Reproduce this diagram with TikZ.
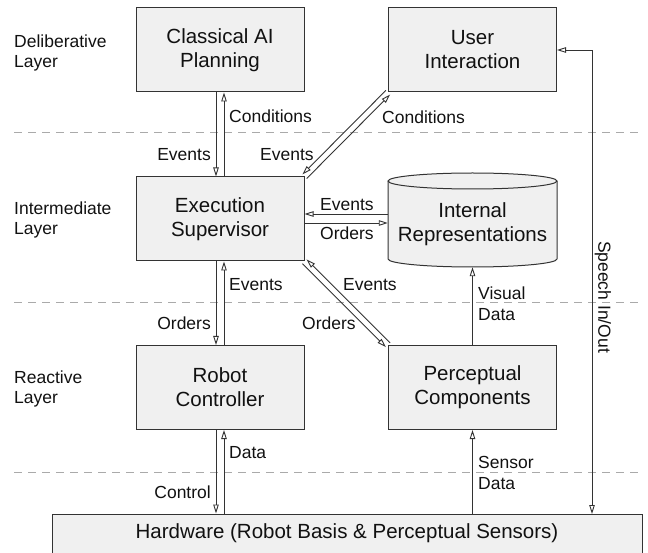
\documentclass[tikz,border=0pt]{standalone}
\usepackage{fontspec}
\setmainfont{Liberation Sans}
\usetikzlibrary{arrows.meta}
\definecolor{boxfill}{HTML}{F0F0F0}
\definecolor{boxline}{HTML}{333333}
\definecolor{dashcol}{HTML}{AAAAAA}
\definecolor{txt}{HTML}{111111}
\begin{document}
\begin{tikzpicture}[x=1pt,y=-1pt,
  box/.style={draw=boxline, fill=boxfill, line width=1pt, minimum width=168pt, minimum height=84pt,
    inner sep=0pt, align=center, text=txt, font=\fontsize{20.5}{24}\selectfont},
  lab/.style={font=\fontsize{17.5}{20.5}\selectfont, inner sep=0pt, align=left, text=txt},
  conn/.style={draw=boxline, line width=0.9pt},
  tipend/.style={-{Triangle[open, length=9pt, width=5.5pt]}},
  tipboth/.style={{Triangle[open, length=9pt, width=5.5pt]}-{Triangle[open, length=9pt, width=5.5pt]}},
  sep/.style={draw=dashcol, line width=1pt, dash pattern=on 8pt off 6pt}
]
\useasboundingbox (0,0) rectangle (648,553);

% layer separators
\draw[sep] (14,133) -- (640,133);
\draw[sep] (14,303) -- (640,303);
\draw[sep] (14,472) -- (640,472);

% layer labels
\node[lab, anchor=west] (l1) at (14,53) {Deliberative\\Layer};
\node[lab, anchor=west] (l2) at (14,220) {Intermediate\\Layer};
\node[lab, anchor=west] (l3) at (14,389) {Reactive\\Layer};

% boxes
\node[box] (cls) at (220,50) {Classical AI\\Planning};
\node[box] (ui) at (472.5,50) {User\\Interaction};
\node[box] (ex) at (220,219) {Execution\\Supervisor};
\node[box] (rc) at (220,387.5) {Robot\\Controller};
\node[box] (pc) at (472.5,387.5) {Perceptual\\Components};

% cylinder
\node[minimum width=169pt, minimum height=94pt, inner sep=0pt] (ir) at (472.5,220) {};
\path[fill=boxfill] (388,181) rectangle (557,259);
\path[fill=boxfill] (472.5,259) ellipse[x radius=84.5, y radius=8];
\draw[boxline, line width=1pt] (388,181) -- (388,259) arc[start angle=180, end angle=0, x radius=84.5, y radius=8] -- (557,181);
\draw[boxline, line width=1pt, fill=boxfill] (472.5,181) ellipse[x radius=84.5, y radius=8];
\node[align=center, text=txt, font=\fontsize{20.5}{24}\selectfont, inner sep=0pt] (irt) at (472.5,224) {Internal\\Representations};

% hardware
\node[draw=boxline, fill=boxfill, line width=1pt, minimum width=590pt, minimum height=42pt, inner sep=0pt] (hw) at (347,535) {};
\node[text=txt, font=\fontsize{20.5}{24}\selectfont, inner sep=0pt] (hwt) at (347,533) {Hardware (Robot Basis \& Perceptual Sensors)};

% Classical <-> Exec
\draw[conn, tipend] ([xshift=-4pt]cls.south) -- ([xshift=-4pt]ex.north);
\draw[conn, tipend] ([xshift=4pt]ex.north) -- ([xshift=4pt]cls.south);
\node[lab, anchor=west] (lc1) at (229,116) {Conditions};
\node[lab, anchor=east] (le1) at (211,155) {Events};

% UI <-> Exec
\draw[conn, tipend] ([shift={(-2.1,-2.1)}]ui.south west) -- ([shift={(-2.1,-2.1)}]ex.north east);
\draw[conn, tipend] ([shift={(2.1,2.1)}]ex.north east) -- ([shift={(2.1,2.1)}]ui.south west);
\node[lab, anchor=west] (le2) at (260,155) {Events};
\node[lab, anchor=west] (lc2) at (382,117) {Conditions};

% Exec <-> IR
\draw[conn, tipend] ([shift={(0,-6)}]ir.west) -- ([shift={(0,-5)}]ex.east);
\draw[conn, tipend] ([shift={(0,4)}]ex.east) -- ([shift={(0,3)}]ir.west);
\node[lab, anchor=west] (le3) at (320,205) {Events};
\node[lab, anchor=west] (lo3) at (320,233) {Orders};

% Exec <-> Robot
\draw[conn, tipend] ([xshift=-4pt]ex.south) -- ([xshift=-4pt]rc.north);
\draw[conn, tipend] ([xshift=4pt]rc.north) -- ([xshift=4pt]ex.south);
\node[lab, anchor=west] (le4) at (229,285) {Events};
\node[lab, anchor=east] (lo4) at (211,323) {Orders};

% Exec <-> Perceptual
\draw[conn, tipend] ([shift={(2.1,-2.1)}]pc.north west) -- ([shift={(2.1,-2.1)}]ex.south east);
\draw[conn, tipend] ([shift={(-2.1,2.1)}]ex.south east) -- ([shift={(-2.1,2.1)}]pc.north west);
\node[lab, anchor=west] (le5) at (343,285) {Events};
\node[lab, anchor=west] (lo5) at (302,323) {Orders};

% Perceptual -> IR
\draw[conn, tipend] (pc.north) -- (ir.south);
\node[lab, anchor=west] (lv) at (478,303.5) {Visual\\Data};

% Robot <-> Hardware
\coordinate (c1) at ([xshift=-4pt]rc.south);
\coordinate (c2) at ([xshift=4pt]rc.south);
\draw[conn, tipend] (c1) -- (c1 |- hw.north);
\draw[conn, tipend] (c2 |- hw.north) -- (c2);
\node[lab, anchor=west] (ld) at (229,453) {Data};
\node[lab, anchor=east] (lctl) at (211,492) {Control};

% Hardware -> Perceptual
\draw[conn, tipend] (pc.south |- hw.north) -- (pc.south);
\node[lab, anchor=west] (ls) at (478,473) {Sensor\\Data};

% Speech
\coordinate (sp) at (592,514);
\draw[conn, tipboth] (ui.east) -| (sp);
\node[lab, rotate=-90] (lsp) at (603,297) {Speech In/Out};
\end{tikzpicture}
\end{document}
